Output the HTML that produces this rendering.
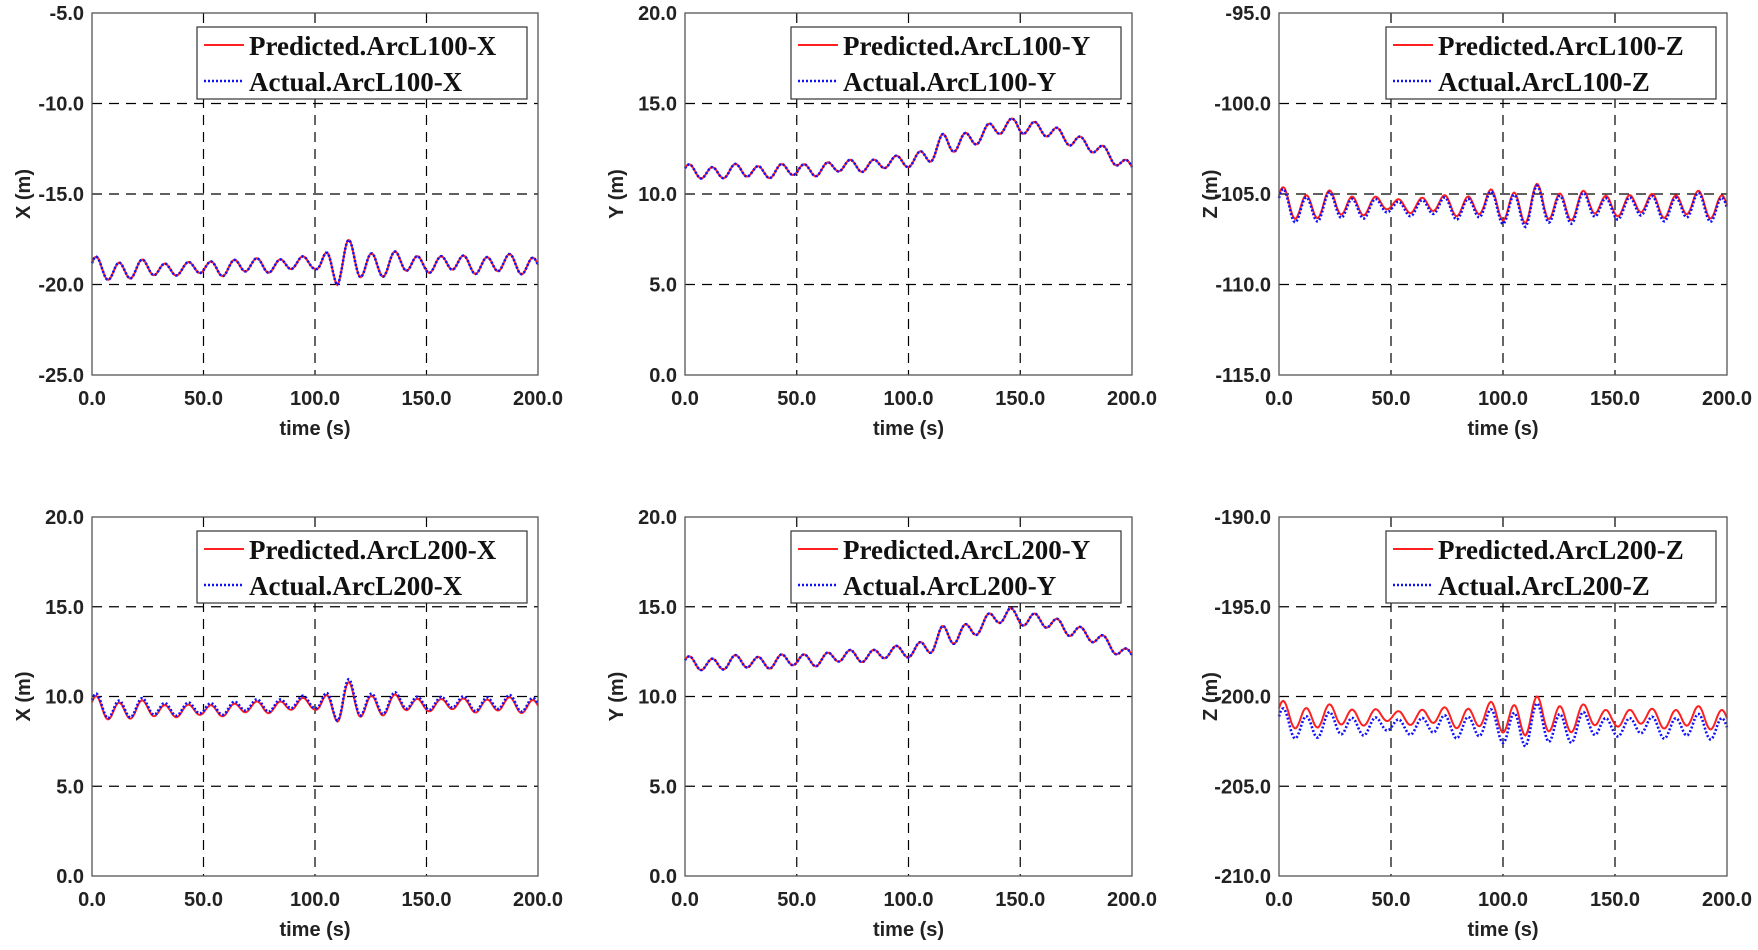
<!DOCTYPE html>
<html><head><meta charset="utf-8"><style>
html,body{margin:0;padding:0;background:#fff;}
svg{display:block;}
</style></head><body>
<svg id="s" width="1758" height="950" xmlns="http://www.w3.org/2000/svg"></svg>
<script>
const S=document.getElementById('s');
const cols=[[92,538],[685,1132],[1279,1727]];
const rows=[[13,375],[517,876]];
function interp(k,t){for(let i=0;i<k.length-1;i++){if(t<=k[i+1][0]){const f=(t-k[i][0])/(k[i+1][0]-k[i][0]);return k[i][1]+f*(k[i+1][1]-k[i][1]);}}return k[k.length-1][1];}
function series(base,amp,off,ampMul,seed){const p=[];for(let t=0;t<=200;t+=0.5){const b=interp(base,t)+off;const a=interp(amp,t)*ampMul;const v=b+a*Math.sin(2*Math.PI*t/10.3+seed)+0.25*a*Math.sin(2*Math.PI*t/23+1.3);p.push([t,v]);}return p;}
const panels=[
 {r:0,c:0,ymin:-25,ymax:-5,lab:'X',nm:'ArcL100-X',base:[[0,-19.2],[50,-19.1],[100,-18.8],[200,-18.9]],amp:[[0,0.6],[40,0.3],[60,0.4],[100,0.3],[110,1.2],[125,0.7],[150,0.4],[200,0.5]],boff:0,bm:1},
 {r:0,c:1,ymin:0,ymax:20,lab:'Y',nm:'ArcL100-Y',base:[[0,11.2],[50,11.3],[100,11.8],[120,12.8],[148,13.9],[175,13.0],[200,11.5]],amp:[[0,0.35],[100,0.3],[115,0.6],[130,0.4],[200,0.3]],boff:0,bm:1},
 {r:0,c:2,ymin:-115,ymax:-95,lab:'Z',nm:'ArcL100-Z',base:[[0,-105.6],[200,-105.6]],amp:[[0,0.8],[30,0.6],[50,0.3],[90,0.6],[110,1.0],[125,0.8],[150,0.5],[200,0.7]],boff:-0.15,bm:1.05},
 {r:1,c:0,ymin:0,ymax:20,lab:'X',nm:'ArcL200-X',base:[[0,9.3],[50,9.2],[100,9.6],[200,9.5]],amp:[[0,0.6],[40,0.3],[60,0.3],[100,0.3],[112,1.1],[125,0.6],[150,0.3],[200,0.4]],boff:0.1,bm:1.05},
 {r:1,c:1,ymin:0,ymax:20,lab:'Y',nm:'ArcL200-Y',base:[[0,11.8],[50,12.0],[100,12.5],[120,13.4],[145,14.6],[175,13.7],[200,12.3]],amp:[[0,0.35],[100,0.3],[115,0.6],[130,0.4],[200,0.3]],boff:0,bm:1},
 {r:1,c:2,ymin:-210,ymax:-190,lab:'Z',nm:'ArcL200-Z',base:[[0,-201.1],[200,-201.2]],amp:[[0,0.7],[30,0.5],[50,0.3],[90,0.6],[110,1.0],[125,0.8],[150,0.4],[200,0.6]],boff:-0.5,bm:1.1}
];
let h='';
for(const P of panels){
 const [x0,x1]=cols[P.c],[y0,y1]=rows[P.r];
 const X=t=>x0+(x1-x0)*t/200, Y=v=>y1-(y1-y0)*(v-P.ymin)/(P.ymax-P.ymin);
 for(let i=1;i<4;i++){const gx=x0+(x1-x0)*i/4;h+=`<line x1="${gx}" y1="${y0}" x2="${gx}" y2="${y1}" stroke="#000" stroke-width="1.2" stroke-dasharray="10,7"/>`;}
 for(let i=1;i<4;i++){const gy=y0+(y1-y0)*i/4;h+=`<line x1="${x0}" y1="${gy}" x2="${x1}" y2="${gy}" stroke="#000" stroke-width="1.2" stroke-dasharray="10,7"/>`;}
 const red=series(P.base,P.amp,0,1,0.4), blue=series(P.base,P.amp,P.boff,P.bm,0.4);
 const pts=a=>a.map(q=>X(q[0]).toFixed(1)+','+Y(q[1]).toFixed(1)).join(' ');
 h+=`<polyline points="${pts(red)}" fill="none" stroke="#ff2020" stroke-width="2"/>`;
 h+=`<polyline points="${pts(blue)}" fill="none" stroke="#1010ff" stroke-width="2.6" stroke-dasharray="2,2"/>`;
 h+=`<rect x="${x0}" y="${y0}" width="${x1-x0}" height="${y1-y0}" fill="none" stroke="#555" stroke-width="1.3"/>`;
 for(let i=0;i<5;i++){const v=P.ymin+(P.ymax-P.ymin)*i/4;h+=`<text x="${x0-8}" y="${Y(v)+7}" text-anchor="end" font-family="Liberation Sans,sans-serif" font-weight="bold" font-size="20" fill="#222">${v.toFixed(1)}</text>`;}
 for(let i=0;i<5;i++){h+=`<text x="${X(i*50)}" y="${y1+30}" text-anchor="middle" font-family="Liberation Sans,sans-serif" font-weight="bold" font-size="20" fill="#222">${(i*50).toFixed(1)}</text>`;}
 h+=`<text x="${(x0+x1)/2}" y="${y1+60}" text-anchor="middle" font-family="Liberation Sans,sans-serif" font-weight="bold" font-size="20" fill="#222">time (s)</text>`;
 const lx=x0-62, ly=(y0+y1)/2;
 h+=`<text x="${lx}" y="${ly}" transform="rotate(-90 ${lx} ${ly})" text-anchor="middle" font-family="Liberation Sans,sans-serif" font-weight="bold" font-size="20" fill="#222">${P.lab} (m)</text>`;
 const bx=x1-341,by=y0+14;
 h+=`<rect x="${bx}" y="${by}" width="330" height="72" fill="#fff" stroke="#333" stroke-width="1.2"/>`;
 h+=`<line x1="${bx+7}" y1="${by+18}" x2="${bx+47}" y2="${by+18}" stroke="#ff2020" stroke-width="2"/>`;
 h+=`<line x1="${bx+7}" y1="${by+54}" x2="${bx+47}" y2="${by+54}" stroke="#1010ff" stroke-width="2.6" stroke-dasharray="2,2"/>`;
 h+=`<text x="${bx+52}" y="${by+28}" font-family="Liberation Serif,serif" font-weight="bold" font-size="27" fill="#111">Predicted.${P.nm}</text>`;
 h+=`<text x="${bx+52}" y="${by+64}" font-family="Liberation Serif,serif" font-weight="bold" font-size="27" fill="#111">Actual.${P.nm}</text>`;
}
S.innerHTML=h;
</script>
</body></html>
